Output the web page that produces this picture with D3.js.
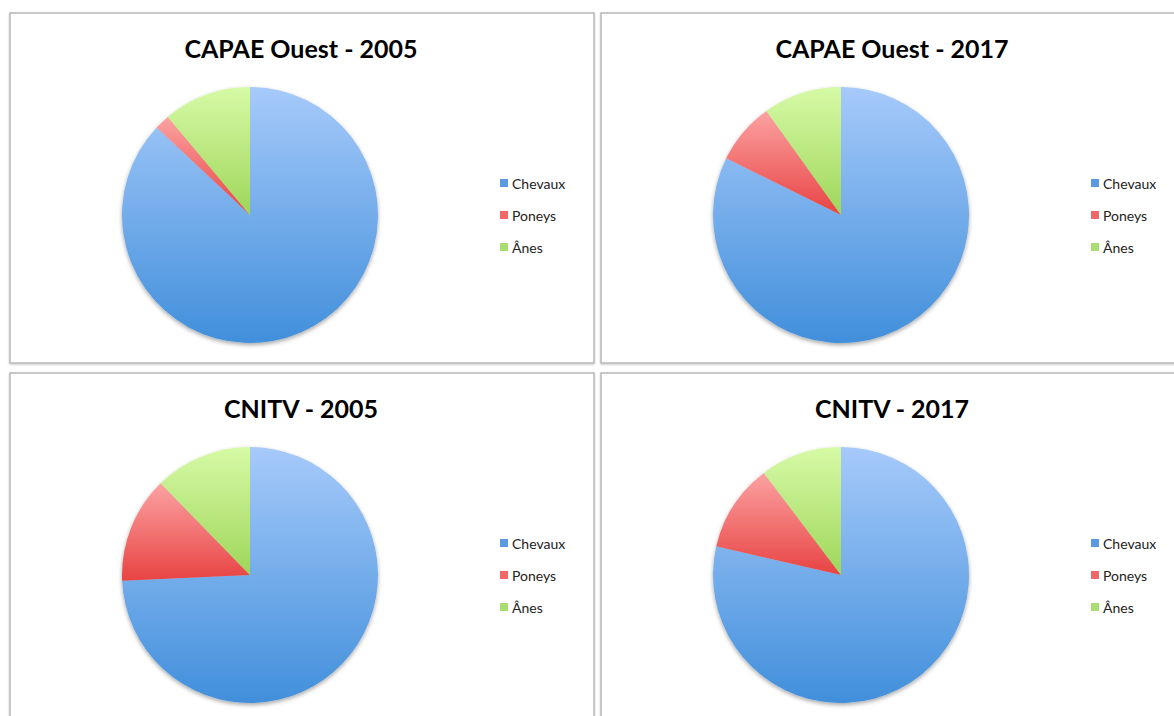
<!DOCTYPE html>
<html>
<head>
<meta charset="utf-8">
<script src="https://cdn.jsdelivr.net/npm/d3@7"></script>
<style>
body { margin: 0; background: #fff; }
svg { display: block; }
.title { font-family: Lato, "Open Sans", sans-serif; font-weight: bold; font-size: 25px; fill: #000; }
.legend text { font-family: Lato, "Open Sans", sans-serif; font-size: 14px; fill: #222; }
</style>
</head>
<body>
<script>
var width = 1174;
var height = 716;

// data (percent of total)
var categories = ["Chevaux", "Poneys", "Ânes"];
var titles = ["CAPAE Ouest - 2005", "CAPAE Ouest - 2017", "CNITV - 2005", "CNITV - 2017"];
var capae2005 = [87.0, 1.9, 11.1];
var capae2017 = [82.3, 7.8, 9.9];
var cnitv2005 = [74.3, 13.4, 12.3];
var cnitv2017 = [78.6, 11.1, 10.3];
var allValues = [capae2005, capae2017, cnitv2005, cnitv2017];

var lightCol = ["#a6cafa", "#fca2a2", "#d6faa6"];
var darkCol = ["#418fdb", "#e84343", "#9fd65a"];
var keyCol = ["#5a9ae0", "#f06868", "#a8de70"];

var panelW = 584, panelH = 350;
var panelPos = [[10, 13], [601, 13], [10, 373], [601, 373]];
var r = 128;

var svg = d3.select("body").append("svg")
	.attr("width", width)
	.attr("height", height);

var defs = svg.append("defs");

categories.forEach(function(c, i) {
	var g = defs.append("linearGradient")
		.attr("id", "grad" + i)
		.attr("x1", 0).attr("y1", 0).attr("x2", 0).attr("y2", 1);
	g.append("stop").attr("offset", "0%").attr("stop-color", lightCol[i]);
	g.append("stop").attr("offset", "100%").attr("stop-color", darkCol[i]);
});

var shadow = defs.append("filter").attr("id", "shadow")
	.attr("x", "-10%").attr("y", "-10%").attr("width", "120%").attr("height", "125%");
shadow.append("feDropShadow")
	.attr("dx", 0).attr("dy", 2).attr("stdDeviation", 2)
	.attr("flood-color", "#000").attr("flood-opacity", 0.35);

var panelShadow = defs.append("filter").attr("id", "pshadow")
	.attr("x", "-2%").attr("y", "-2%").attr("width", "104%").attr("height", "104%");
panelShadow.append("feDropShadow")
	.attr("dx", 0).attr("dy", 1).attr("stdDeviation", 1)
	.attr("flood-color", "#000").attr("flood-opacity", 0.2);

var pie = d3.pie().sort(null).value(function(d) { return d; });
var arc = d3.arc().innerRadius(0).outerRadius(r);

var legendY = d3.scalePoint().domain(categories).range([171, 235]);

allValues.forEach(function(vals, k) {
	var p = svg.append("g")
		.attr("transform", "translate(" + panelPos[k][0] + "," + panelPos[k][1] + ")");

	p.append("rect")
		.attr("x", 0).attr("y", 0)
		.attr("width", panelW).attr("height", panelH)
		.attr("fill", "#fff")
		.attr("stroke", "#b8b8b8")
		.attr("stroke-width", 1.5)
		.attr("filter", "url(#pshadow)");

	p.append("text")
		.attr("class", "title")
		.attr("x", panelW / 2 - 1)
		.attr("y", 45)
		.attr("text-anchor", "middle")
		.text(titles[k]);

	var pg = p.append("g")
		.attr("transform", "translate(240,202)")
		.attr("filter", "url(#shadow)");

	pg.selectAll("path")
		.data(pie(vals))
		.enter().append("path")
		.attr("d", arc)
		.attr("fill", function(d, i) { return "url(#grad" + i + ")"; });

	var lg = p.append("g").attr("class", "legend");
	var item = lg.selectAll("g")
		.data(categories)
		.enter().append("g")
		.attr("transform", function(d) { return "translate(490," + legendY(d) + ")"; });

	item.append("rect")
		.attr("x", 0).attr("y", -5)
		.attr("width", 8).attr("height", 8)
		.attr("fill", function(d, i) { return keyCol[i]; });

	item.append("text")
		.attr("x", 12)
		.attr("y", 5)
		.text(function(d) { return d; });
});
</script>
</body>
</html>
